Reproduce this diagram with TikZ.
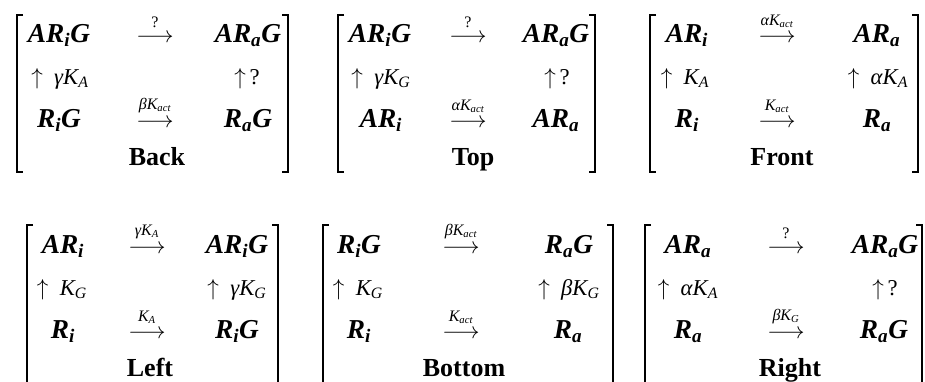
\documentclass[tikz,border=0pt]{standalone}
\usepackage{fontspec}
\setmainfont{Liberation Serif}
\usetikzlibrary{positioning}

\begin{document}
\begin{tikzpicture}[x=0.75pt, y=-0.75pt,
    sp/.style={font=\fontsize{20.5}{22}\selectfont\bfseries\itshape, anchor=base, inner sep=0pt},
    rt/.style={font=\fontsize{17}{19}\selectfont\itshape, anchor=base, inner sep=0pt},
    arr/.style={font=\fontsize{19}{21}\selectfont, anchor=base, inner sep=0pt},
    lbl/.style={font=\fontsize{12}{13}\selectfont\itshape, inner sep=0pt},
    ttl/.style={font=\fontsize{19.5}{21}\selectfont\bfseries, anchor=base, inner sep=0pt},
    brk/.style={line width=1.3pt}]
  \useasboundingbox (0,0) rectangle (925,382);

  % Back
  \draw[brk] (23,15) -- (17,15) -- (17,172) -- (23,172);
  \draw[brk] (282,15) -- (288,15) -- (288,172) -- (282,172);
  \node[sp] (backARi) at (59,42) {AR\textsubscript{i}G};
  \node[arr] (backA1) at (155,42) {$\longrightarrow$};
  \node[lbl, above=4pt of backA1] (backL1) {\textup{?}};
  \node[sp] (backARa) at (248,42) {AR\textsubscript{a}G};
  \node[rt] (backUpL) at (60,84) {$\uparrow$\ \ γK\textsubscript{A}};
  \node[rt] (backUpR) at (247,84) {$\uparrow$\,\textup{?}};
  \node[sp] (backRi) at (59,127) {R\textsubscript{i}G};
  \node[arr] (backA2) at (155,127) {$\longrightarrow$};
  \node[lbl, above=4pt of backA2] (backL2) {βK\textsubscript{act}};
  \node[sp] (backRa) at (248,127) {R\textsubscript{a}G};
  \node[ttl] (backT) at (157,165) {Back};

  % Top
  \draw[brk] (344,15) -- (338,15) -- (338,172) -- (344,172);
  \draw[brk] (589,15) -- (595,15) -- (595,172) -- (589,172);
  \node[sp] (topARi) at (380,42) {AR\textsubscript{i}G};
  \node[arr] (topA1) at (468,42) {$\longrightarrow$};
  \node[lbl, above=4pt of topA1] (topL1) {\textup{?}};
  \node[sp] (topARa) at (556,42) {AR\textsubscript{a}G};
  \node[rt] (topUpL) at (381,84) {$\uparrow$\ \ γK\textsubscript{G}};
  \node[rt] (topUpR) at (557,84) {$\uparrow$\,\textup{?}};
  \node[sp] (topRi) at (381,127) {AR\textsubscript{i}};
  \node[arr] (topA2) at (468,127) {$\longrightarrow$};
  \node[lbl, above=4pt of topA2] (topL2) {αK\textsubscript{act}};
  \node[sp] (topRa) at (556,127) {AR\textsubscript{a}};
  \node[ttl] (topT) at (473,165) {Top};

  % Front
  \draw[brk] (656,15) -- (650,15) -- (650,172) -- (656,172);
  \draw[brk] (912,15) -- (918,15) -- (918,172) -- (912,172);
  \node[sp] (frontARi) at (687,42) {AR\textsubscript{i}};
  \node[arr] (frontA1) at (777,42) {$\longrightarrow$};
  \node[lbl, above=4pt of frontA1] (frontL1) {αK\textsubscript{act}};
  \node[sp] (frontARa) at (877,42) {AR\textsubscript{a}};
  \node[rt] (frontUpL) at (685,84) {$\uparrow$\ \ K\textsubscript{A}};
  \node[rt] (frontUpR) at (878,84) {$\uparrow$\ \ αK\textsubscript{A}};
  \node[sp] (frontRi) at (687,127) {R\textsubscript{i}};
  \node[arr] (frontA2) at (777,127) {$\longrightarrow$};
  \node[lbl, above=4pt of frontA2] (frontL2) {K\textsubscript{act}};
  \node[sp] (frontRa) at (877,127) {R\textsubscript{a}};
  \node[ttl] (frontT) at (782,165) {Front};

  % Left
  \draw[brk] (33,225) -- (27,225) -- (27,382);
  \draw[brk] (272,225) -- (278,225) -- (278,382);
  \node[sp] (leftARi) at (63,253) {AR\textsubscript{i}};
  \node[arr] (leftA1) at (147,253) {$\longrightarrow$};
  \node[lbl, above=4pt of leftA1] (leftL1) {γK\textsubscript{A}};
  \node[sp] (leftARiG) at (237,253) {AR\textsubscript{i}G};
  \node[rt] (leftUpL) at (62,295) {$\uparrow$\ \ K\textsubscript{G}};
  \node[rt] (leftUpR) at (237,295) {$\uparrow$\ \ γK\textsubscript{G}};
  \node[sp] (leftRi) at (63,338) {R\textsubscript{i}};
  \node[arr] (leftA2) at (147,338) {$\longrightarrow$};
  \node[lbl, above=4pt of leftA2] (leftL2) {K\textsubscript{A}};
  \node[sp] (leftRiG) at (237,338) {R\textsubscript{i}G};
  \node[ttl] (leftT) at (150,376) {Left};

  % Bottom
  \draw[brk] (329,225) -- (323,225) -- (323,382);
  \draw[brk] (607,225) -- (613,225) -- (613,382);
  \node[sp] (botRiG) at (359,253) {R\textsubscript{i}G};
  \node[arr] (botA1) at (461,253) {$\longrightarrow$};
  \node[lbl, above=4pt of botA1] (botL1) {βK\textsubscript{act}};
  \node[sp] (botRaG) at (569,253) {R\textsubscript{a}G};
  \node[rt] (botUpL) at (358,295) {$\uparrow$\ \ K\textsubscript{G}};
  \node[rt] (botUpR) at (569,295) {$\uparrow$\ \ βK\textsubscript{G}};
  \node[sp] (botRi) at (359,338) {R\textsubscript{i}};
  \node[arr] (botA2) at (461,338) {$\longrightarrow$};
  \node[lbl, above=4pt of botA2] (botL2) {K\textsubscript{act}};
  \node[sp] (botRa) at (568,338) {R\textsubscript{a}};
  \node[ttl] (botT) at (464,376) {Bottom};

  % Right
  \draw[brk] (651,225) -- (645,225) -- (645,382);
  \draw[brk] (916,225) -- (922,225) -- (922,382);
  \node[sp] (rightARa) at (688,253) {AR\textsubscript{a}};
  \node[arr] (rightA1) at (786,253) {$\longrightarrow$};
  \node[lbl, above=4pt of rightA1] (rightL1) {\textup{?}};
  \node[sp] (rightARaG) at (885,253) {AR\textsubscript{a}G};
  \node[rt] (rightUpL) at (688,295) {$\uparrow$\ \ αK\textsubscript{A}};
  \node[rt] (rightUpR) at (885,295) {$\uparrow$\,\textup{?}};
  \node[sp] (rightRa) at (688,338) {R\textsubscript{a}};
  \node[arr] (rightA2) at (786,338) {$\longrightarrow$};
  \node[lbl, above=4pt of rightA2] (rightL2) {βK\textsubscript{G}};
  \node[sp] (rightRaG) at (884,338) {R\textsubscript{a}G};
  \node[ttl] (rightT) at (790,376) {Right};
\end{tikzpicture}
\end{document}
